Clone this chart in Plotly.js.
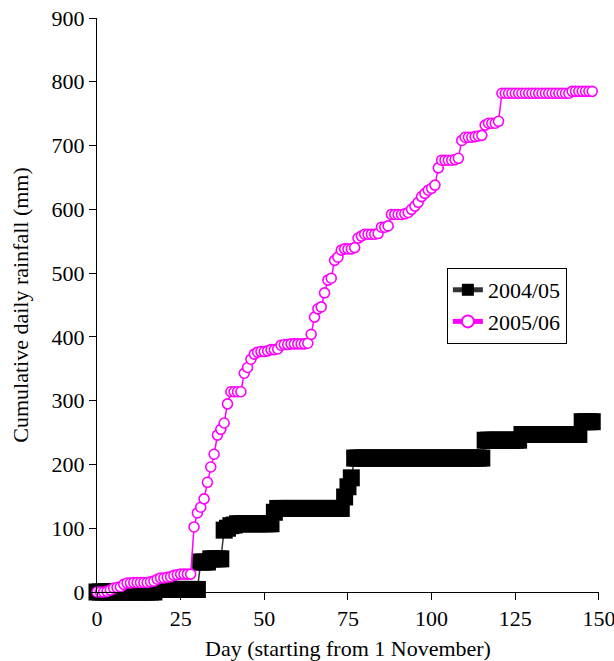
<!DOCTYPE html>
<html>
<head>
<meta charset="utf-8">
<script src="https://cdn.plot.ly/plotly-3.0.1.min.js"></script>
<style>html,body{margin:0;padding:0;background:#fff;}#chart{width:614px;height:661px;}</style>
</head>
<body>
<div id="chart"></div>
<script>
// Day index (starting from 1 November)
const days = [];
for (let d = -1; d <= 148; d++) days.push(d);

// Cumulative daily rainfall (mm), 2004/05
const rain2004 = [
  0, 0, 0, 0, 0, 0, 0, 0, 0, 0,            // -1..8
  0, 0, 0, 0, 0, 0, 0, 0, 0, 4,            // 9..18
  4, 4, 4, 4, 4, 4, 4, 4, 4, 4,            // 19..28
  4, 4, 47, 47, 47, 52, 52, 52, 52, 97,    // 29..38
  100, 104, 105, 107, 107, 107, 107, 107, 107, 107, // 39..48
  107, 107, 107, 107, 125, 131, 131, 131, 131, 131, // 49..58
  131, 131, 131, 131, 131, 131, 131, 131, 131, 131, // 59..68
  131, 131, 131, 131, 131, 149, 165, 179, 210, 210, // 69..78
  210, 210, 210, 210, 210, 210, 210, 210, 210, 210, // 79..88
  210, 210, 210, 210, 210, 210, 210, 210, 210, 210, // 89..98
  210, 210, 210, 210, 210, 210, 210, 210, 210, 210, // 99..108
  210, 210, 210, 210, 210, 210, 210, 238, 238, 238, // 109..118
  238, 238, 238, 238, 238, 238, 238, 238, 247, 247, // 119..128
  247, 247, 247, 247, 247, 247, 247, 247, 247, 247, // 129..138
  247, 247, 247, 247, 247, 247, 267, 267, 267, 267  // 139..148
];

// Cumulative daily rainfall (mm), 2005/06
const rain2005 = [
  0, 0, 0, 0, 1, 3, 6, 7, 8, 12,           // -1..8
  14, 14, 15, 15, 15, 15, 15, 16, 17, 20,  // 9..18
  22, 22, 23, 24, 26, 27, 28, 28, 28, 28,  // 19..28
  102, 124, 133, 146, 172, 196, 216, 246, 255, 265, // 29..38
  295, 314, 314, 314, 314, 343, 352, 365, 373, 376, // 39..48
  377, 377, 378, 380, 380, 381, 387, 388, 388, 389, // 49..58
  389, 389, 389, 389, 390, 404, 431, 444, 447, 469, // 59..68
  489, 492, 520, 525, 536, 538, 538, 538, 540, 555, // 69..78
  558, 561, 561, 561, 561, 562, 572, 572, 574, 592, // 79..88
  592, 592, 592, 593, 595, 600, 605, 611, 620, 625, // 89..98
  630, 633, 638, 665, 677, 677, 677, 677, 678, 680, // 99..108
  708, 713, 713, 713, 714, 715, 716, 732, 735, 735, // 109..118
  735, 738, 782, 782, 782, 782, 782, 782, 782, 782, // 119..128
  782, 782, 782, 782, 782, 782, 782, 782, 782, 782, // 129..138
  782, 782, 782, 785, 785, 785, 785, 785, 785, 785  // 139..148
];

const seriesNames = ['2004/05', '2005/06'];
const xTicks = [0, 25, 50, 75, 100, 125, 150];
const yTicks = [0, 100, 200, 300, 400, 500, 600, 700, 800, 900];

const FONT = 'Liberation Serif, Times New Roman, serif';

const traces = [
  {
    x: days, y: rain2004, name: seriesNames[0], type: 'scatter', mode: 'lines+markers',
    line: {color: '#333333', width: 1.5},
    marker: {symbol: 'square', size: 17, color: '#000000', line: {width: 0}},
    cliponaxis: false
  },
  {
    x: days, y: rain2005, name: seriesNames[1], type: 'scatter', mode: 'lines+markers',
    line: {color: '#ff00ff', width: 1.5},
    marker: {symbol: 'circle', size: 10, color: '#ffffff', line: {color: '#ff00ff', width: 1.6}},
    cliponaxis: false
  }
];

const layout = {
  width: 614, height: 661,
  margin: {l: 97, r: 15, t: 18, b: 69},
  paper_bgcolor: '#ffffff', plot_bgcolor: '#ffffff',
  font: {family: FONT, size: 22, color: '#000000'},
  showlegend: true,
  legend: {
    x: 0.697, y: 0.5645, xanchor: 'left', yanchor: 'top',
    bordercolor: '#000000', borderwidth: 1, bgcolor: '#ffffff',
    font: {family: FONT, size: 22, color: '#000000'},
    itemsizing: 'constant', tracegroupgap: 0
  },
  xaxis: {
    range: [0, 150.02], tickvals: xTicks, ticktext: xTicks.map(String),
    showgrid: false, zeroline: false, showline: true, linecolor: '#000000', linewidth: 1,
    ticks: 'outside', ticklen: 7, tickcolor: '#000000',
    tickfont: {family: FONT, size: 22}, ticklabeloverflow: 'allow',
    title: {text: 'Day (starting from 1 November)', font: {family: FONT, size: 22}, standoff: 13},
    automargin: false
  },
  yaxis: {
    range: [0, 900], tickvals: yTicks, ticktext: yTicks.map(String),
    showgrid: false, zeroline: false, showline: true, linecolor: '#000000', linewidth: 1,
    ticks: 'outside', ticklen: 7, tickcolor: '#000000',
    tickfont: {family: FONT, size: 22}, ticklabeloverflow: 'allow',
    title: {text: 'Cumulative daily rainfall (mm)', font: {family: FONT, size: 22}, standoff: 16},
    automargin: false
  }
};

Plotly.newPlot('chart', traces, layout, {displayModeBar: false, staticPlot: true});
</script>
</body>
</html>
